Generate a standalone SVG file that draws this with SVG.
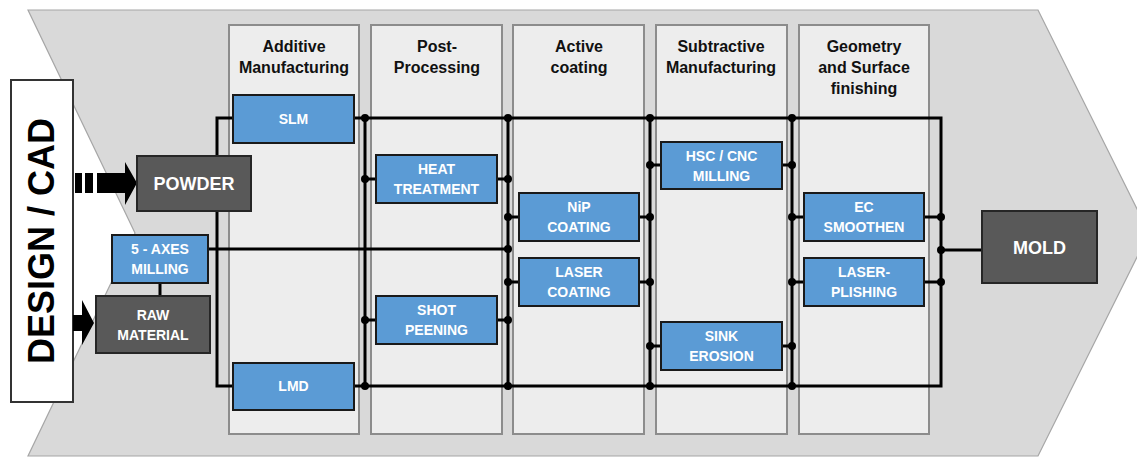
<svg xmlns="http://www.w3.org/2000/svg" width="1137" height="457" viewBox="0 0 1137 457">
<style>
.bg{fill:#d9d9d9;stroke:#a6a6a6;stroke-width:1.2}
.col{fill:#ededed;stroke:#8c8c8c;stroke-width:2}
.hd{font-family:"Liberation Sans",Arial,sans-serif;font-weight:bold;font-size:16px;fill:#111;text-anchor:middle}
.blue{fill:#5b9bd5;stroke:#1a1a1a;stroke-width:2}
.dark{fill:#595959;stroke:#262626;stroke-width:2}
.lb{font-family:"Liberation Sans",Arial,sans-serif;font-weight:bold;font-size:14px;fill:#fff;text-anchor:middle}
.big{font-family:"Liberation Sans",Arial,sans-serif;font-weight:bold;font-size:18px;fill:#fff;text-anchor:middle}
.ln{fill:none;stroke:#000;stroke-width:3}
.dot{fill:#000}
</style>
<polygon class="bg" points="28,10 1038,10 1149,233 1038,456 28,456 135,233"/>
<g id="design-cad">
<rect x="11" y="80" width="62" height="322" fill="#fff" stroke="#333" stroke-width="2"/>
<text transform="translate(54,241) rotate(-90)" font-family="'Liberation Sans',Arial,sans-serif" font-weight="bold" font-size="36" text-anchor="middle" fill="#000">DESIGN / CAD</text>
</g>
<g id="arrows">
<rect x="75" y="173" width="7" height="20" fill="#000"/>
<rect x="85" y="173" width="8" height="20" fill="#000"/>
<polygon points="97,173 125,173 125,162 137,183 125,205 125,193 97,193" fill="#000"/>
<polygon points="73,315 82,315 82,300 94,323 82,345 82,331 73,331" fill="#000"/>
</g>
<g id="col-additive">
<rect class="col" x="229" y="25" width="130" height="409"/>
<text class="hd" x="294" y="52">Additive</text>
<text class="hd" x="294" y="73">Manufacturing</text>
</g>
<g id="col-post">
<rect class="col" x="371" y="25" width="131" height="409"/>
<text class="hd" x="437" y="52">Post-</text>
<text class="hd" x="437" y="73">Processing</text>
</g>
<g id="col-active">
<rect class="col" x="513" y="25" width="131" height="409"/>
<text class="hd" x="579" y="52">Active</text>
<text class="hd" x="579" y="73">coating</text>
</g>
<g id="col-subtractive">
<rect class="col" x="656" y="25" width="131" height="409"/>
<text class="hd" x="721" y="52">Subtractive</text>
<text class="hd" x="721" y="73">Manufacturing</text>
</g>
<g id="col-geometry">
<rect class="col" x="799" y="25" width="130" height="409"/>
<text class="hd" x="864" y="52">Geometry</text>
<text class="hd" x="864" y="73">and Surface</text>
<text class="hd" x="864" y="94">finishing</text>
</g>
<g id="connectors">
<path class="ln" d="M233,118 H217 V386 H233"/>
<path class="ln" d="M354,118 H941 V386 H354"/>
<path class="ln" d="M208,249 H508"/>
<path class="ln" d="M160,283 V296"/>
<path class="ln" d="M365,118 V386 M508,118 V386 M650,118 V386 M792,118 V386"/>
<path class="ln" d="M365,179 H376 M497,179 H508 M365,320 H376 M497,320 H508"/>
<path class="ln" d="M508,217 H519 M639,217 H650 M508,282 H519 M639,282 H650"/>
<path class="ln" d="M650,165 H661 M782,165 H792 M650,346 H661 M782,346 H792"/>
<path class="ln" d="M792,217 H804 M924,217 H941 M792,282 H804 M924,282 H941 M941,250 H982"/>
<g class="dot">
<circle cx="365" cy="118" r="4"/><circle cx="365" cy="179" r="4"/><circle cx="365" cy="320" r="4"/><circle cx="365" cy="386" r="4"/>
<circle cx="508" cy="118" r="4"/><circle cx="508" cy="179" r="4"/><circle cx="508" cy="217" r="4"/><circle cx="508" cy="249" r="4"/><circle cx="508" cy="282" r="4"/><circle cx="508" cy="320" r="4"/><circle cx="508" cy="386" r="4"/>
<circle cx="650" cy="118" r="4"/><circle cx="650" cy="165" r="4"/><circle cx="650" cy="217" r="4"/><circle cx="650" cy="282" r="4"/><circle cx="650" cy="346" r="4"/><circle cx="650" cy="386" r="4"/>
<circle cx="792" cy="118" r="4"/><circle cx="792" cy="165" r="4"/><circle cx="792" cy="217" r="4"/><circle cx="792" cy="282" r="4"/><circle cx="792" cy="346" r="4"/><circle cx="792" cy="386" r="4"/>
<circle cx="941" cy="217" r="4"/><circle cx="941" cy="250" r="4"/><circle cx="941" cy="282" r="4"/>
</g>
</g>
<g id="powder">
<rect class="dark" x="137" y="156" width="114" height="55"/>
<text class="big" x="194" y="190">POWDER</text>
</g>
<g id="five-axes">
<rect class="blue" x="112" y="235" width="96" height="48"/>
<text class="lb" x="160" y="254">5 - AXES</text>
<text class="lb" x="160" y="274">MILLING</text>
</g>
<g id="raw-material">
<rect class="dark" x="96" y="296" width="114" height="57"/>
<text class="lb" x="153" y="319.5">RAW</text>
<text class="lb" x="153" y="339.5">MATERIAL</text>
</g>
<g id="slm">
<rect class="blue" x="233" y="95" width="121" height="48"/>
<text class="lb" x="293.5" y="124">SLM</text>
</g>
<g id="lmd">
<rect class="blue" x="233" y="363" width="121" height="47"/>
<text class="lb" x="293.5" y="391">LMD</text>
</g>
<g id="heat-treatment">
<rect class="blue" x="376" y="155" width="121" height="48"/>
<text class="lb" x="436.5" y="174">HEAT</text>
<text class="lb" x="436.5" y="194">TREATMENT</text>
</g>
<g id="shot-peening">
<rect class="blue" x="376" y="296" width="121" height="48"/>
<text class="lb" x="436.5" y="315">SHOT</text>
<text class="lb" x="436.5" y="335">PEENING</text>
</g>
<g id="nip-coating">
<rect class="blue" x="519" y="193" width="120" height="48"/>
<text class="lb" x="579" y="212">NiP</text>
<text class="lb" x="579" y="232">COATING</text>
</g>
<g id="laser-coating">
<rect class="blue" x="519" y="258" width="120" height="48"/>
<text class="lb" x="579" y="277">LASER</text>
<text class="lb" x="579" y="297">COATING</text>
</g>
<g id="hsc-cnc-milling">
<rect class="blue" x="661" y="142" width="121" height="47"/>
<text class="lb" x="721.5" y="160.5">HSC / CNC</text>
<text class="lb" x="721.5" y="180.5">MILLING</text>
</g>
<g id="sink-erosion">
<rect class="blue" x="661" y="322" width="121" height="48"/>
<text class="lb" x="721.5" y="341">SINK</text>
<text class="lb" x="721.5" y="361">EROSION</text>
</g>
<g id="ec-smoothen">
<rect class="blue" x="804" y="193" width="120" height="48"/>
<text class="lb" x="864" y="212">EC</text>
<text class="lb" x="864" y="232">SMOOTHEN</text>
</g>
<g id="laser-plishing">
<rect class="blue" x="804" y="258" width="120" height="48"/>
<text class="lb" x="864" y="277">LASER-</text>
<text class="lb" x="864" y="297">PLISHING</text>
</g>
<g id="mold">
<rect class="dark" x="982" y="211" width="115" height="72"/>
<text class="big" x="1039.5" y="253.5">MOLD</text>
</g>
</svg>
